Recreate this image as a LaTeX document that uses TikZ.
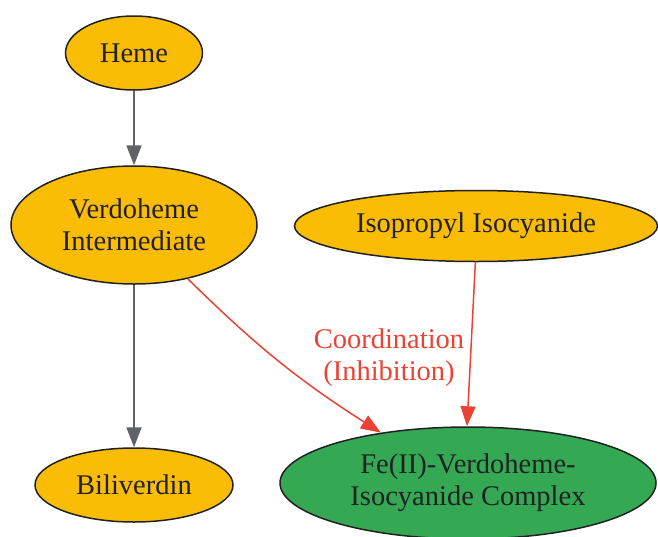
\documentclass[tikz,border=0pt]{standalone}
\usepackage{fontspec}
\setmainfont{Liberation Serif}
\usetikzlibrary{shapes.geometric,arrows.meta}
\definecolor{gold}{HTML}{FBBC05}
\definecolor{gr}{HTML}{34A853}
\definecolor{rd}{HTML}{EA4335}
\definecolor{gy}{HTML}{5F6368}
\definecolor{tx}{HTML}{202124}
\begin{document}
\begin{tikzpicture}[x=1pt,y=1pt,
  blob/.style={ellipse,draw=tx,line width=1.5pt,inner sep=0pt,text=tx,align=center,
     font=\fontsize{28.5}{32}\selectfont},
  yel/.style={blob,fill=gold},
  grn/.style={blob,fill=gr},
  gline/.style={draw=gy,line width=1.8pt,-{Triangle[length=20pt,width=15pt]}},
  rline/.style={draw=rd,line width=1.5pt,-{Triangle[length=20pt,width=15pt]}},
  lab/.style={text=rd,align=center,font=\fontsize{28.5}{32}\selectfont}]
\useasboundingbox (0,0) rectangle (658,-536);
\node[yel,minimum width=137pt,minimum height=74pt] (heme) at (134,-53) {Heme};
\node[yel,minimum width=246pt,minimum height=118pt] (verdo) at (134,-225) {Verdoheme\\Intermediate};
\node[yel,minimum width=363pt,minimum height=71pt] (iso) at (476,-226) {Isopropyl Isocyanide};
\node[yel,minimum width=198pt,minimum height=74pt] (bili) at (134,-485) {Biliverdin};
\node[grn,minimum width=376pt,minimum height=112pt] (fe) at (468,-483) {Fe(II)-Verdoheme-\\Isocyanide Complex};
\draw[gline] (heme) -- (verdo);
\draw[gline] (verdo) -- (bili);
\draw[rline] (verdo.-45) to[bend right=6] (fe.150);
\draw[rline] (iso.-91) -- (fe.91);
\node[lab] (coord) at (389,-358) {Coordination\\(Inhibition)};
\end{tikzpicture}
\end{document}
